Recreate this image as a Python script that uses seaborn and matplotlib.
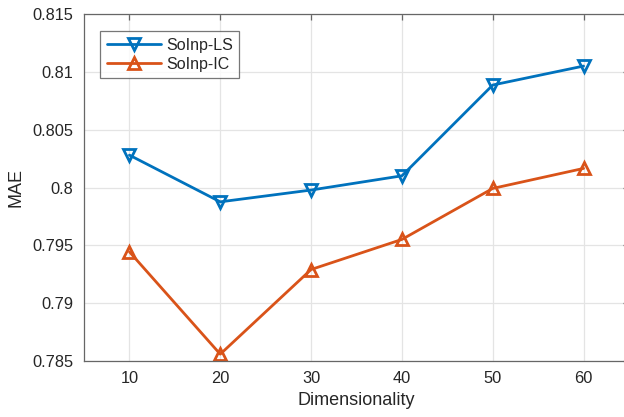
import matplotlib
matplotlib.use("Agg")
import matplotlib.pyplot as plt
import seaborn as sns
import pandas as pd

dims = [10, 20, 30, 40, 50, 60]
mae_ls = [0.8028, 0.79876, 0.79978, 0.80101, 0.80886, 0.8105]
mae_ic = [0.79444, 0.78559, 0.79291, 0.79551, 0.79992, 0.80165]
series_names = ["SoInp-LS", "SoInp-IC"]
yticks = [0.785, 0.79, 0.795, 0.8, 0.805, 0.81, 0.815]
ytick_labels = ["0.785", "0.79", "0.795", "0.8", "0.805", "0.81", "0.815"]
xticks = [10, 20, 30, 40, 50, 60]

df = pd.DataFrame({
    "Dimensionality": dims * 2,
    "MAE": mae_ls + mae_ic,
    "Method": [series_names[0]] * len(dims) + [series_names[1]] * len(dims),
})

sns.set_style("white")
plt.rcParams["font.family"] = ["Liberation Sans", "DejaVu Sans"]

fig = plt.figure(figsize=(6.24, 4.17), dpi=100)
ax = fig.add_axes([84 / 624, (417 - 361) / 417, (629 - 84) / 624, (361 - 14) / 417])

palette = {series_names[0]: "#0072BD", series_names[1]: "#D95319"}
markers = {series_names[0]: "v", series_names[1]: "^"}
sns.lineplot(data=df, x="Dimensionality", y="MAE", hue="Method", style="Method",
             palette=palette, markers=markers, dashes=False, ax=ax,
             linewidth=2, markersize=9, markeredgewidth=2,
             markerfacecolor="none", legend=False)
for line, name in zip(ax.lines, series_names):
    line.set_markerfacecolor("none")
    line.set_markeredgecolor(palette[name])
    line.set_label(name)

ax.set_xlim(5, 65)
ax.set_ylim(0.785, 0.815)
ax.set_xticks(xticks)
ax.set_xticklabels([str(x) for x in xticks])
ax.set_yticks(yticks)
ax.set_yticklabels(ytick_labels)
ax.grid(True, color="#e4e4e4", linewidth=0.9)
ax.set_axisbelow(True)
for s in ax.spines.values():
    s.set_color("#666666")
    s.set_linewidth(0.9)
ax.tick_params(direction="in", length=4, width=0.9, color="#666666",
               top=True, right=True, labelsize=11.8, labelcolor="#262626", pad=7.5)
ax.set_xlabel("Dimensionality", fontsize=13, color="#262626", labelpad=4)
ax.set_ylabel("MAE", fontsize=13, color="#262626", labelpad=6)

leg = ax.legend(loc="upper left", bbox_to_anchor=(0.03, 0.95), fontsize=11.5,
                frameon=True, fancybox=False, handlelength=3.4, handletextpad=0.3,
                borderpad=0.4, labelspacing=0.25, borderaxespad=0)
leg.get_frame().set_edgecolor("#555555")
leg.get_frame().set_linewidth(0.9)

fig.savefig("out.png", dpi=100)
